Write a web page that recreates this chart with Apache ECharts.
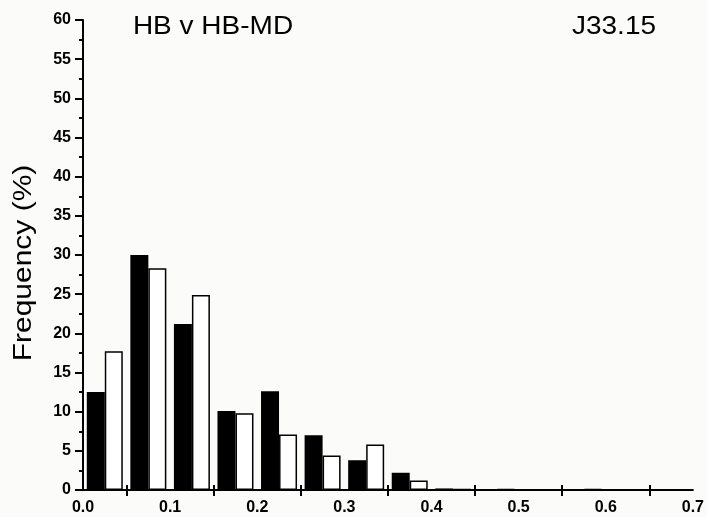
<!DOCTYPE html>
<html>
<head>
<meta charset="utf-8">
<script src="https://cdn.jsdelivr.net/npm/echarts@6/dist/echarts.min.js"></script>
<style>
  html, body { margin: 0; padding: 0; background: #fbfbf9; }
  #chart { width: 707px; height: 517px; }
</style>
</head>
<body>
<div id="chart"></div>
<script>
// Bins of width 0.05 covering 0.0 – 0.7
const bins = ['0.00-0.05', '0.05-0.10', '0.10-0.15', '0.15-0.20', '0.20-0.25', '0.25-0.30', '0.30-0.35',
              '0.35-0.40', '0.40-0.45', '0.45-0.50', '0.50-0.55', '0.55-0.60', '0.60-0.65', '0.65-0.70'];
// Frequency (%) per bin
const hbValues   = [12.5, 30.0, 21.2, 10.1, 12.6, 7.0, 3.8, 2.2, 0.2, 0.1, 0.1, 0.0, 0.1, 0.1];
const hbmdValues = [17.7, 28.3, 24.9,  9.8,  7.1, 4.4, 5.8, 1.2, 0.1, 0.1, 0.0, 0.1, 0.0, 0.0];
const titleLeft = 'HB v HB-MD';
const titleRight = 'J33.15';
const yName = 'Frequency (%)';

const chart = echarts.init(document.getElementById('chart'));
const font = 'Arial, "Liberation Sans", sans-serif';

chart.setOption({
  backgroundColor: '#fbfbf9',
  animation: false,
  grid: { left: 83, right: 12, top: 20, bottom: 27 },
  xAxis: [
    { // bins for the bars
      type: 'category', data: bins, show: false, boundaryGap: true
    },
    { // labelled value axis with ticks between labels
      type: 'value', min: 0, max: 0.7, interval: 0.1, position: 'bottom',
      axisLine: { show: true, lineStyle: { color: '#000', width: 2 } },
      axisTick: { show: false },
      minorTick: { show: true, splitNumber: 2, length: 6, lineStyle: { color: '#000', width: 2 } },
      splitLine: { show: false },
      axisLabel: {
        color: '#000', fontSize: 16, fontWeight: 'bold', fontFamily: font, margin: 10,
        formatter: v => v.toFixed(1)
      }
    },
    { // same ticks drawn upward through the axis line
      type: 'value', min: 0, max: 0.7, interval: 0.1, position: 'bottom',
      axisLine: { show: false },
      axisTick: { show: false, inside: true },
      minorTick: { show: true, splitNumber: 2, length: 5, lineStyle: { color: '#000', width: 2 } },
      splitLine: { show: false },
      axisLabel: { show: false }
    }
  ],
  yAxis: {
    type: 'value', min: 0, max: 60, interval: 5,
    axisLine: { show: true, lineStyle: { color: '#000', width: 2 } },
    axisTick: { show: true, length: 8, lineStyle: { color: '#000', width: 2 } },
    minorTick: { show: true, splitNumber: 2, length: 4, lineStyle: { color: '#000', width: 2 } },
    splitLine: { show: false },
    axisLabel: { color: '#000', fontSize: 16, fontWeight: 'bold', fontFamily: font, margin: 12 }
  },
  series: [
    {
      name: 'HB', type: 'bar', xAxisIndex: 0, data: hbValues,
      barWidth: 18, barGap: '0%',
      itemStyle: { color: '#000', borderColor: '#000', borderWidth: 0 }
    },
    {
      name: 'HB-MD', type: 'bar', xAxisIndex: 0, data: hbmdValues,
      barWidth: 18, barGap: '0%',
      itemStyle: { color: '#fff', borderColor: '#000', borderWidth: 1.5 }
    }
  ],
  graphic: [
    {
      type: 'text', x: 213, y: 27, scaleX: 1.12,
      style: { text: titleLeft, font: '25px ' + font, fill: '#000', textAlign: 'center', textVerticalAlign: 'middle' }
    },
    {
      type: 'text', x: 614, y: 27, scaleX: 1.12,
      style: { text: titleRight, font: '25px ' + font, fill: '#000', textAlign: 'center', textVerticalAlign: 'middle' }
    },
    {
      type: 'text', x: 24, y: 263, rotation: Math.PI / 2, scaleX: 1.2,
      style: { text: yName, font: '25px ' + font, fill: '#000', textAlign: 'center', textVerticalAlign: 'middle' }
    }
  ]
});
</script>
</body>
</html>
